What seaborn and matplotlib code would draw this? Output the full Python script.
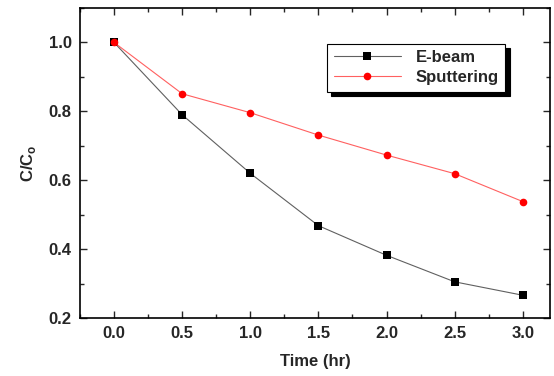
import matplotlib
matplotlib.use("Agg")
import matplotlib.pyplot as plt
import pandas as pd
import seaborn as sns
from matplotlib.ticker import MultipleLocator

# values
time_hr = [0.0, 0.5, 1.0, 1.5, 2.0, 2.5, 3.0]
ebeam = [1.0, 0.79, 0.62, 0.468, 0.382, 0.305, 0.266]
sputtering = [1.0, 0.851, 0.796, 0.731, 0.673, 0.619, 0.538]

df = pd.DataFrame({
    "time": time_hr * 2,
    "ratio": ebeam + sputtering,
    "method": ["E-beam"] * len(ebeam) + ["Sputtering"] * len(sputtering),
})

sns.set_style("ticks")
plt.rcParams["font.family"] = ["Liberation Sans", "DejaVu Sans"]
plt.rcParams["font.weight"] = "bold"
plt.rcParams["mathtext.fontset"] = "custom"
plt.rcParams["mathtext.rm"] = "Liberation Sans:bold"
plt.rcParams["mathtext.bf"] = "Liberation Sans:bold"

fig = plt.figure(figsize=(5.54, 3.76), dpi=100)
ax = fig.add_axes([0.1444, 0.1543, 0.8484, 0.8244])

line_cols = {"E-beam": "#606060", "Sputtering": "#ff6060"}
mark_cols = {"#606060": "black", "#ff6060": "#ff0000"}

sns.lineplot(data=df, x="time", y="ratio", hue="method", style="method",
             palette=line_cols,
             markers={"E-beam": "s", "Sputtering": "o"}, dashes=False,
             linewidth=0.8, markersize=5.5, markeredgewidth=0, ax=ax)

# marker colours differ from the line colours
for line in ax.get_lines():
    c = line.get_color()
    if c in mark_cols:
        line.set_markerfacecolor(mark_cols[c])

ax.set_xlim(-0.25, 3.2)
ax.set_ylim(0.2, 1.1)
ax.xaxis.set_minor_locator(MultipleLocator(0.25))
ax.yaxis.set_major_locator(MultipleLocator(0.2))
ax.yaxis.set_minor_locator(MultipleLocator(0.1))
ax.set_xticks(time_hr)
ax.set_xticklabels([f"{t:.1f}" for t in time_hr])
ax.tick_params(which="both", direction="in", top=True, right=True,
               width=1, labelsize=12, pad=6)
ax.tick_params(which="major", length=5)
ax.tick_params(which="minor", length=3)
for s in ax.spines.values():
    s.set_linewidth(1.2)
    s.set_color("black")

ax.set_xlabel("Time (hr)", fontsize=12, fontweight="bold", labelpad=9)
ax.set_ylabel(r"C/C$_\mathregular{o}$", fontsize=12, fontweight="bold", labelpad=8)

handles, labels = ax.get_legend_handles_labels()
for h in handles:
    c = h.get_color()
    if c in mark_cols:
        h.set_markerfacecolor(mark_cols[c])
leg = ax.legend(handles, labels, loc="upper right", bbox_to_anchor=(0.905, 0.885),
                frameon=True, fancybox=False, edgecolor="black", fontsize=12,
                shadow={"color": "black", "alpha": 1, "ox": 3, "oy": -3},
                handlelength=4.0, borderpad=0.4, labelspacing=0.3,
                handletextpad=0.9, borderaxespad=0)
leg.get_frame().set_linewidth(0.8)
leg.get_frame().set_alpha(1)

fig.savefig("out.png", dpi=100)
